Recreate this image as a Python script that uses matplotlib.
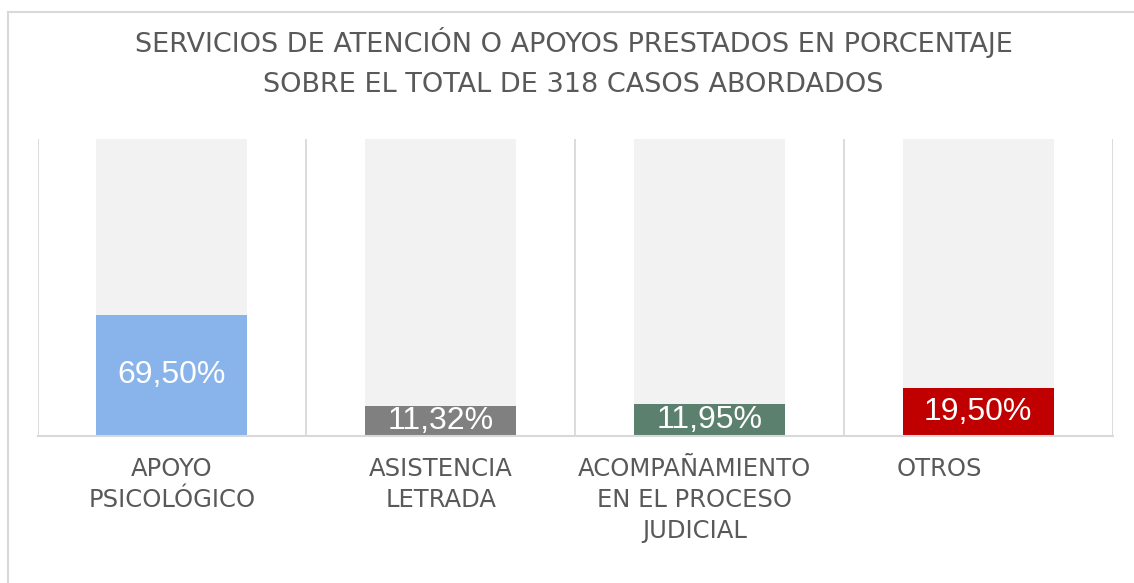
import matplotlib
matplotlib.use("Agg")
import matplotlib.pyplot as plt
from matplotlib.lines import Line2D
from matplotlib.transforms import ScaledTranslation

# ---- data ----
categories = ["APOYO\nPSICOLÓGICO", "ASISTENCIA\nLETRADA",
              "ACOMPAÑAMIENTO\nEN EL PROCESO\nJUDICIAL", "OTROS"]
bar_heights = [40.7, 10.1, 10.7, 16.2]          # visual height (% of axis)
value_labels = ["69,50%", "11,32%", "11,95%", "19,50%"]
background = [100, 100, 100, 100]
title = ("SERVICIOS DE ATENCIÓN O APOYOS PRESTADOS EN PORCENTAJE\n"
         "SOBRE EL TOTAL DE 318 CASOS ABORDADOS")

# ---- style ----
bar_colors = ["#88b3eb", "#808080", "#5b806e", "#c00000"]
bg_color = "#f2f2f2"
grid_color = "#d9d9d9"
text_color = "#595959"
label_dx_px = [0, 0, -15, -39]

W, H, DPI = 1134, 583, 100
fig = plt.figure(figsize=(W / DPI, H / DPI), dpi=DPI)
ax = fig.add_axes([37.5 / W, 1 - 435.7 / H, (1112.7 - 37.5) / W, (435.7 - 139) / H])

x = list(range(len(categories)))
bw = 0.562
ax.bar(x, background, width=bw, color=bg_color, zorder=1)
bars = ax.bar(x, bar_heights, width=bw, color=bar_colors, zorder=2)
for b, lab in zip(bars, value_labels):
    ax.text(b.get_x() + b.get_width() / 2, b.get_height() / 2, lab,
            ha="center", va="center", color="white", fontsize=23,
            family=["Liberation Sans", "DejaVu Sans"], zorder=3)

ax.set_xlim(-0.5, len(categories) - 0.5)
ax.set_ylim(0, 100)
for xv in [i - 0.5 for i in range(len(categories) + 1)]:
    ax.axvline(xv, color=grid_color, lw=1.3, zorder=0)
ax.axhline(0, color=grid_color, lw=1.5, zorder=4, clip_on=False)
for s in ax.spines.values():
    s.set_visible(False)
ax.set_yticks([])
ax.set_xticks(x)
ax.set_xticklabels(categories, fontsize=17.5, color=text_color,
                   family=["DejaVu Sans"], linespacing=1.36)
ax.tick_params(axis="x", length=0, pad=15.5)
for lab, dx in zip(ax.get_xticklabels(), label_dx_px):
    lab.set_transform(lab.get_transform() + ScaledTranslation(dx / DPI, 0, fig.dpi_scale_trans))

fig.text(573.5 / W, 1 - 63 / H, title, ha="center", va="center",
         fontsize=19.5, color=text_color, family=["DejaVu Sans"], linespacing=1.7)

# chart frame (top and left edges visible)
fig.add_artist(Line2D([8 / W, 8 / W], [0, 1 - 12 / H], transform=fig.transFigure,
                      color=grid_color, lw=1.5))
fig.add_artist(Line2D([8 / W, 1], [1 - 12 / H, 1 - 12 / H], transform=fig.transFigure,
                      color=grid_color, lw=1.5))

fig.savefig("out.png", dpi=DPI, facecolor="white")
